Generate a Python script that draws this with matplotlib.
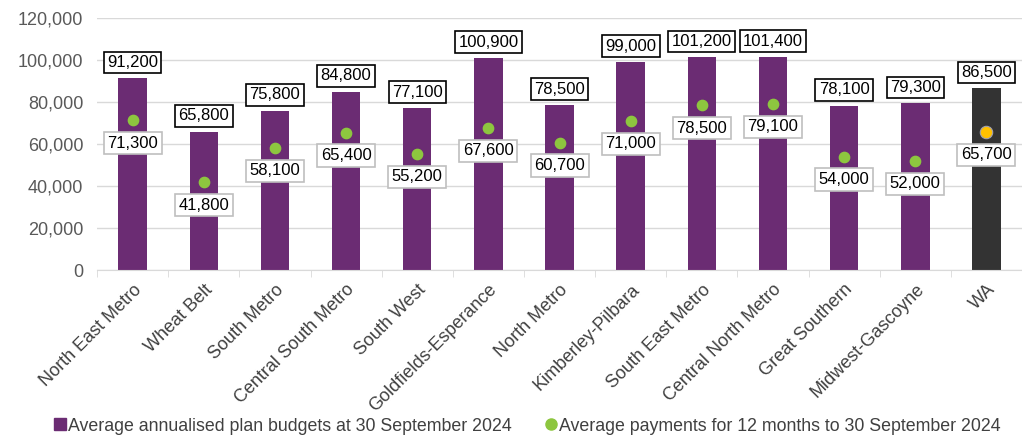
import matplotlib.pyplot as plt
import numpy as np

plt.rcParams['font.family'] = ['Liberation Sans', 'DejaVu Sans']

regions = ['North East Metro', 'Wheat Belt', 'South Metro', 'Central South Metro',
           'South West', 'Goldfields-Esperance', 'North Metro', 'Kimberley-Pilbara',
           'South East Metro', 'Central North Metro', 'Great Southern',
           'Midwest-Gascoyne', 'WA']
budgets = [91200, 65800, 75800, 84800, 77100, 100900, 78500, 99000,
           101200, 101400, 78100, 79300, 86500]
payments = [71300, 41800, 58100, 65400, 55200, 67600, 60700, 71000,
            78500, 79100, 54000, 52000, 65700]

purple = '#6B2C73'
green = '#8DC63F'
x = np.arange(len(regions))
bar_colors = [purple] * (len(regions) - 1) + ['#333333']

fig = plt.figure(figsize=(10.22, 4.37), dpi=100)
ax = fig.add_axes([0.095, 0.382, 0.905, 0.577])

ax.bar(x, budgets, width=0.4, color=bar_colors, zorder=2)
ax.scatter(x[:-1], payments[:-1], s=55, color=green, zorder=3)
ax.scatter(x[-1:], payments[-1:], s=80, color='#FFC000', edgecolor='#A0A0B0',
           linewidth=0.8, zorder=3)

for xi, b, p in zip(x, budgets, payments):
    ax.annotate(f'{b:,}', xy=(xi, b), xytext=(0, 11.5), textcoords='offset points',
                ha='center', va='center', fontsize=12,
                bbox=dict(boxstyle='square,pad=0.2', fc='white', ec='black', lw=1.2))
    ax.annotate(f'{p:,}', xy=(xi, p), xytext=(0, -16.5), textcoords='offset points',
                ha='center', va='center', fontsize=12,
                bbox=dict(boxstyle='square,pad=0.22', fc='white', ec='#BFBFBF', lw=1.2),
                zorder=4)

ax.set_xlim(-0.5, len(regions) - 0.5)
ax.set_ylim(0, 120000)
ax.set_yticks(np.arange(0, 120001, 20000))
ax.set_yticklabels([f'{v:,}' for v in range(0, 120001, 20000)], fontsize=13,
                   color='#595959')
ax.yaxis.grid(True, color='#D9D9D9', linewidth=1)
ax.set_axisbelow(True)
ax.tick_params(axis='y', length=0, pad=10)

ax.set_xticks(x)
ax.set_xticklabels(regions, rotation=45, ha='right', va='top',
                   rotation_mode='anchor', fontsize=13, color='#404040')
ax.tick_params(axis='x', length=0, pad=8)
ax.set_xticks(np.arange(-0.5, len(regions), 1), minor=True)
ax.tick_params(axis='x', which='minor', length=5, color='#D9D9D9')

for s in ['top', 'right', 'left']:
    ax.spines[s].set_visible(False)
ax.spines['bottom'].set_color('#D9D9D9')

handles = [
    plt.Line2D([], [], marker='s', linestyle='', color=purple, markersize=8),
    plt.Line2D([], [], marker='o', linestyle='', color=green, markersize=8),
]
fig.legend(handles, ['Average annualised plan budgets at 30 September 2024',
                     'Average payments for 12 months to 30 September 2024'],
           loc='center', bbox_to_anchor=(0.515, 0.025), ncol=2, frameon=False,
           fontsize=12.8, handletextpad=0.05, columnspacing=1.8, handlelength=0.8,
           labelcolor='#404040', borderpad=0)

fig.savefig('out.png', dpi=100)
